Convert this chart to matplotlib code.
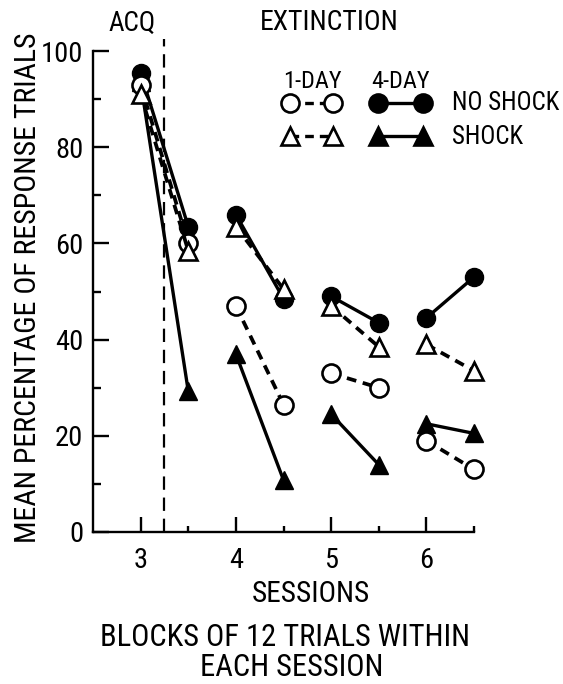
import matplotlib
matplotlib.use("Agg")
import matplotlib.pyplot as plt
from matplotlib.lines import Line2D

plt.rcParams['font.family'] = ['Roboto Condensed', 'DejaVu Sans']

# blocks of 12 trials: first and second half of each session
block_x = [3, 3.5, 4, 4.5, 5, 5.5, 6, 6.5]
session_ticks = [3, 4, 5, 6]
half_ticks = [3.5, 4.5, 5.5, 6.5]
y_major = [0, 20, 40, 60, 80, 100]
y_minor = [10, 30, 50, 70, 90]

# mean percentage of response trials
one_day_no_shock = [93, 60, 47, 26.5, 33, 30, 19, 13]
one_day_shock = [91, 58.5, 63.5, 50.5, 47, 38.5, 39, 33.5]
four_day_no_shock = [95.5, 63.5, 66, 48.5, 49, 43.5, 44.5, 53]
four_day_shock = [93.5, 29.3, 37, 10.8, 24.5, 14, 22.5, 20.5]

W, H = 563, 684
fig = plt.figure(figsize=(W / 100, H / 100), dpi=100)


def px(x, y):
    # pixel position (from top-left) -> figure fraction
    return x / W, 1 - y / H


ax = fig.add_axes([93 / W, 1 - 532 / H, (474 - 93) / W, (532 - 51) / H])
ax.set_xlim(2.5, 6.5)
ax.set_ylim(0, 100)

for s in ['top', 'right']:
    ax.spines[s].set_visible(False)
for s in ['left', 'bottom']:
    ax.spines[s].set_linewidth(1.7)

ax.set_xticks(session_ticks)
ax.set_xticks(half_ticks, minor=True)
ax.set_yticks(y_major)
ax.set_yticks(y_minor, minor=True)
ax.tick_params(axis='both', which='both', direction='in', width=1.7, color='black',
               bottom=True, left=True, top=False, right=False)
ax.tick_params(axis='both', which='major', labelsize=20.5)
ax.tick_params(axis='x', which='major', length=11, pad=11)
ax.tick_params(axis='x', which='minor', length=4.5)
ax.tick_params(axis='y', which='major', length=11.5, pad=7)
ax.tick_params(axis='y', which='minor', length=6)

# acquisition / extinction divider
ax.plot([3.25, 3.25], [0, 102.5], color='black', lw=1.6, dashes=(6, 3.5), clip_on=False)

solid = dict(color='black', lw=2.4, ms=13, clip_on=False)
dashed = dict(color='black', lw=2.7, ms=13, dashes=(2.6, 1.8), clip_on=False)

for i in range(0, len(block_x), 2):
    xs = block_x[i:i + 2]
    ax.plot(xs, four_day_shock[i:i + 2], marker='^', mfc='black', mec='black', zorder=3, **solid)
    ax.plot(xs, four_day_no_shock[i:i + 2], marker='o', mfc='black', mec='black', zorder=4, **solid)
    ax.plot(xs, one_day_no_shock[i:i + 2], marker='o', mfc='white', mec='black', mew=1.9, zorder=5, **dashed)
    ax.plot(xs, one_day_shock[i:i + 2], marker='^', mfc='white', mec='black', mew=1.9, zorder=6, **dashed)

txt = dict(ha='center', va='center')

# header texts
fig.text(*px(132, 23), 'ACQ', fontsize=19.5, **txt)
fig.text(*px(329, 23), 'EXTINCTION', fontsize=20, **txt)

# hand-drawn style key
fig.text(*px(312, 81), '1-DAY', fontsize=17.5, **txt)
fig.text(*px(401, 81), '4-DAY', fontsize=17.5, **txt)
key = [
    (103, 'o', 'white', (2.6, 1.8), 290, 333),
    (103, 'o', 'black', None, 378, 423),
    (136, '^', 'white', (2.6, 1.8), 290, 333),
    (136, '^', 'black', None, 378, 423),
]
for y, m, fc, ds, x0, x1 in key:
    (ax0, ay), (ax1, _) = px(x0, y), px(x1, y)
    ln = Line2D([ax0, ax1], [ay, ay], transform=fig.transFigure, color='black',
                lw=2.4, marker=m, ms=13, mfc=fc, mec='black', mew=1.9)
    if ds:
        ln.set_dashes(ds)
    fig.add_artist(ln)
fig.text(*px(452, 103), 'NO SHOCK', fontsize=18, ha='left', va='center')
fig.text(*px(452, 137), 'SHOCK', fontsize=18, ha='left', va='center')

# axis labels
fig.text(*px(28, 288), 'MEAN PERCENTAGE OF RESPONSE TRIALS', rotation=90,
         fontsize=21.5, **txt)
fig.text(*px(311, 594), 'SESSIONS', fontsize=21, **txt)
fig.text(*px(285, 638), 'BLOCKS OF 12 TRIALS WITHIN', fontsize=22, **txt)
fig.text(*px(292, 668), 'EACH SESSION', fontsize=22, **txt)

fig.savefig('out.png', dpi=100)
